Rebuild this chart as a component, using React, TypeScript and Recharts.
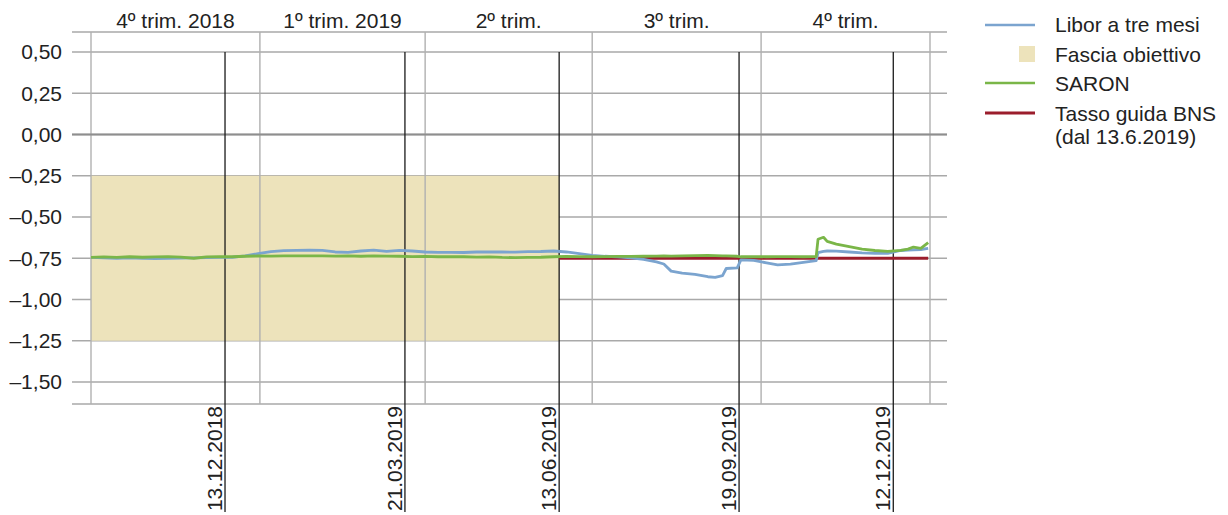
import { LineChart, Line, XAxis, YAxis, CartesianGrid, ReferenceLine, ReferenceArea, Legend } from "recharts";

const FONT = '"Liberation Sans", Arial, sans-serif';
const INK = "#222";
const T0 = Date.UTC(2018, 9, 1);
const dayOf = (iso: string) => Math.round((Date.parse(iso) - T0) / 86400000);

// weekly readings (plus a few extra days around the jumps)
const DATES = [
  "2018-10-01", "2018-10-08", "2018-10-15", "2018-10-22", "2018-10-29", "2018-11-05", "2018-11-12",
  "2018-11-19", "2018-11-26", "2018-12-03", "2018-12-10", "2018-12-17", "2018-12-24", "2018-12-31",
  "2019-01-07", "2019-01-14", "2019-01-21", "2019-01-28", "2019-02-04", "2019-02-11", "2019-02-18",
  "2019-02-25", "2019-03-04", "2019-03-11", "2019-03-18", "2019-03-25", "2019-04-01", "2019-04-08",
  "2019-04-15", "2019-04-22", "2019-04-29", "2019-05-06", "2019-05-13", "2019-05-20", "2019-05-27",
  "2019-06-03", "2019-06-10", "2019-06-17", "2019-06-24", "2019-07-01", "2019-07-08", "2019-07-15",
  "2019-07-22", "2019-07-29", "2019-08-05", "2019-08-09", "2019-08-13", "2019-08-19", "2019-08-26",
  "2019-09-02", "2019-09-06", "2019-09-10", "2019-09-12", "2019-09-18", "2019-09-20", "2019-09-27",
  "2019-10-04", "2019-10-10", "2019-10-17", "2019-10-24", "2019-10-31", "2019-11-01", "2019-11-04",
  "2019-11-06", "2019-11-11", "2019-11-18", "2019-11-25", "2019-12-02", "2019-12-09", "2019-12-16",
  "2019-12-20", "2019-12-23", "2019-12-27", "2019-12-31",
];

const LIBOR = [
  -0.745, -0.748, -0.75, -0.748, -0.75, -0.752, -0.75,
  -0.749, -0.748, -0.746, -0.745, -0.744, -0.735, -0.722,
  -0.71, -0.704, -0.702, -0.701, -0.702, -0.712, -0.714,
  -0.706, -0.701, -0.708, -0.702, -0.706, -0.712, -0.714,
  -0.714, -0.715, -0.712, -0.711, -0.712, -0.713, -0.71,
  -0.709, -0.706, -0.712, -0.722, -0.732, -0.738, -0.742,
  -0.748, -0.757, -0.772, -0.785, -0.828, -0.84, -0.848,
  -0.862, -0.866, -0.855, -0.812, -0.808, -0.76, -0.763,
  -0.778, -0.79, -0.785, -0.775, -0.765, -0.716, -0.708,
  -0.706, -0.707, -0.712, -0.718, -0.721, -0.72, -0.703,
  -0.7, -0.699, -0.697, -0.69,
];

const SARON = [
  -0.745, -0.742, -0.745, -0.741, -0.744, -0.742, -0.74,
  -0.743, -0.75, -0.742, -0.74, -0.741, -0.738, -0.736,
  -0.737, -0.735, -0.736, -0.735, -0.736, -0.737, -0.736,
  -0.738, -0.736, -0.737, -0.738, -0.74, -0.739, -0.741,
  -0.74, -0.741, -0.743, -0.742, -0.745, -0.746, -0.745,
  -0.744, -0.741, -0.739, -0.74, -0.741, -0.74, -0.739,
  -0.739, -0.738, -0.737, -0.736, -0.737, -0.735, -0.734,
  -0.733, -0.734, -0.735, -0.736, -0.738, -0.741, -0.74,
  -0.741, -0.74, -0.74, -0.741, -0.74, -0.635, -0.623,
  -0.648, -0.664, -0.68, -0.695, -0.703, -0.708, -0.702,
  -0.695, -0.682, -0.69, -0.655,
];

const POLICY_DATES = ["2019-06-13", "2019-12-31"];
const POLICY_RATE = [-0.75, -0.75];

const BAND_FROM = "2018-10-01";
const BAND_TO = "2019-06-13";
const BAND_LOW = -1.25;
const BAND_HIGH = -0.25;

const QUARTER_BOUNDS = ["2018-10-01", "2019-01-01", "2019-04-01", "2019-07-01", "2019-10-01", "2020-01-01"];
const QUARTER_LABELS = ["4º trim. 2018", "1º trim. 2019", "2º trim.", "3º trim.", "4º trim."];
const MEETINGS = ["2018-12-13", "2019-03-21", "2019-06-13", "2019-09-19", "2019-12-12"];
const MEETING_LABELS = ["13.12.2018", "21.03.2019", "13.06.2019", "19.09.2019", "12.12.2019"];
const Y_TICKS = [0.5, 0.25, 0, -0.25, -0.5, -0.75, -1, -1.25, -1.5];

const rows = DATES.map((d, i) => ({ day: dayOf(d), libor: LIBOR[i], saron: SARON[i] }));
const policyRows = POLICY_DATES.map((d, i) => ({ day: dayOf(d), policy: POLICY_RATE[i] }));
const bounds = QUARTER_BOUNDS.map(dayOf);
const quarterMids = bounds.slice(0, -1).map((b, i) => (b + bounds[i + 1]) / 2);

const X_DOMAIN = [-10.35, 466.26];
const Y_DOMAIN = [-1.6333, 0.6212];

const fmtY = (v: number) => (v < 0 ? "\u2013" : "") + Math.abs(v).toFixed(2).replace(".", ",");

function LegendBox() {
  const t = { fontSize: 21, fontFamily: FONT, fill: INK };
  return (
    <svg width={248} height={150}>
      <line x1={5} x2={55} y1={25} y2={25} stroke="#7ba4cf" strokeWidth={2.5} />
      <text x={75} y={32} {...t}>Libor a tre mesi</text>
      <rect x={39} y={46} width={16} height={16} fill="#ede3bb" />
      <text x={75} y={61.5} {...t}>Fascia obiettivo</text>
      <line x1={5} x2={55} y1={83} y2={83} stroke="#7ab648" strokeWidth={2.5} />
      <text x={75} y={90.5} {...t}>SARON</text>
      <line x1={5} x2={55} y1={113} y2={113} stroke="#9b1d2c" strokeWidth={3} />
      <text x={75} y={120.5} {...t}>Tasso guida BNS</text>
      <text x={75} y={144} {...t}>(dal 13.6.2019)</text>
    </svg>
  );
}

export default function App() {
  return (
    <div style={{ position: "relative", width: 1228, height: 515 }}>
      <style>{"body{margin:0;background:#fff}"}</style>
      <LineChart width={1228} height={515} data={rows} margin={{ top: 0, right: 281, bottom: 111, left: 0 }}>
        <ReferenceArea
          x1={dayOf(BAND_FROM)}
          x2={dayOf(BAND_TO)}
          y1={BAND_LOW}
          y2={BAND_HIGH}
          fill="#ede3bb"
          fillOpacity={1}
          stroke="none"
        />
        <CartesianGrid vertical={false} stroke="#a9a9a9" strokeWidth={1.3} />
        <XAxis
          dataKey="day"
          type="number"
          orientation="top"
          domain={X_DOMAIN}
          allowDataOverflow
          ticks={quarterMids}
          interval={0}
          tickFormatter={(v: number) => QUARTER_LABELS[quarterMids.indexOf(v)] ?? ""}
          axisLine={false}
          tickLine={false}
          tickSize={0}
          tickMargin={4}
          height={32}
          tick={{ fontSize: 21, fontFamily: FONT, fill: INK }}
        />
        <YAxis
          type="number"
          domain={Y_DOMAIN}
          allowDataOverflow
          ticks={Y_TICKS}
          interval={0}
          tickFormatter={fmtY}
          axisLine={false}
          tickLine={false}
          tickSize={6}
          tickMargin={4}
          width={72}
          tick={{ fontSize: 21, fontFamily: FONT, fill: INK }}
        />
        {bounds.map((b) => (
          <ReferenceLine key={"q" + b} x={b} stroke="#b0b0b0" strokeWidth={1.4} ifOverflow="visible" />
        ))}
        <ReferenceLine y={0} stroke="#8e8e8e" strokeWidth={2.2} />
        {MEETINGS.map((m, i) => (
          <ReferenceLine
            key={m}
            ifOverflow="visible"
            segment={[
              { x: dayOf(m), y: 0.5 },
              { x: dayOf(m), y: Y_DOMAIN[0] },
            ]}
            shape={(p: any) => {
              const bottom = Math.max(p.y1, p.y2);
              const top = Math.min(p.y1, p.y2);
              return (
                <g>
                  <line x1={p.x1} x2={p.x1} y1={top} y2={bottom + 108} stroke="#1a1a1a" strokeWidth={1.3} />
                  <text
                    transform={`translate(${p.x1 - 3},${bottom + 2}) rotate(-90)`}
                    textAnchor="end"
                    fontSize={21}
                    fontFamily={FONT}
                    fill={INK}
                  >
                    {MEETING_LABELS[i]}
                  </text>
                </g>
              );
            }}
          />
        ))}
        <Line data={policyRows} dataKey="policy" stroke="#9b1d2c" strokeWidth={3} dot={false} isAnimationActive={false} />
        <Line dataKey="libor" stroke="#7ba4cf" strokeWidth={2.8} strokeLinejoin="round" dot={false} isAnimationActive={false} />
        <Line dataKey="saron" stroke="#7ab648" strokeWidth={2.8} strokeLinejoin="round" dot={false} isAnimationActive={false} />
        <Legend
          layout="vertical"
          align="center"
          verticalAlign="middle"
          wrapperStyle={{ left: 980, top: 0, width: 248, height: 150 }}
          content={() => <LegendBox />}
        />
      </LineChart>
    </div>
  );
}
